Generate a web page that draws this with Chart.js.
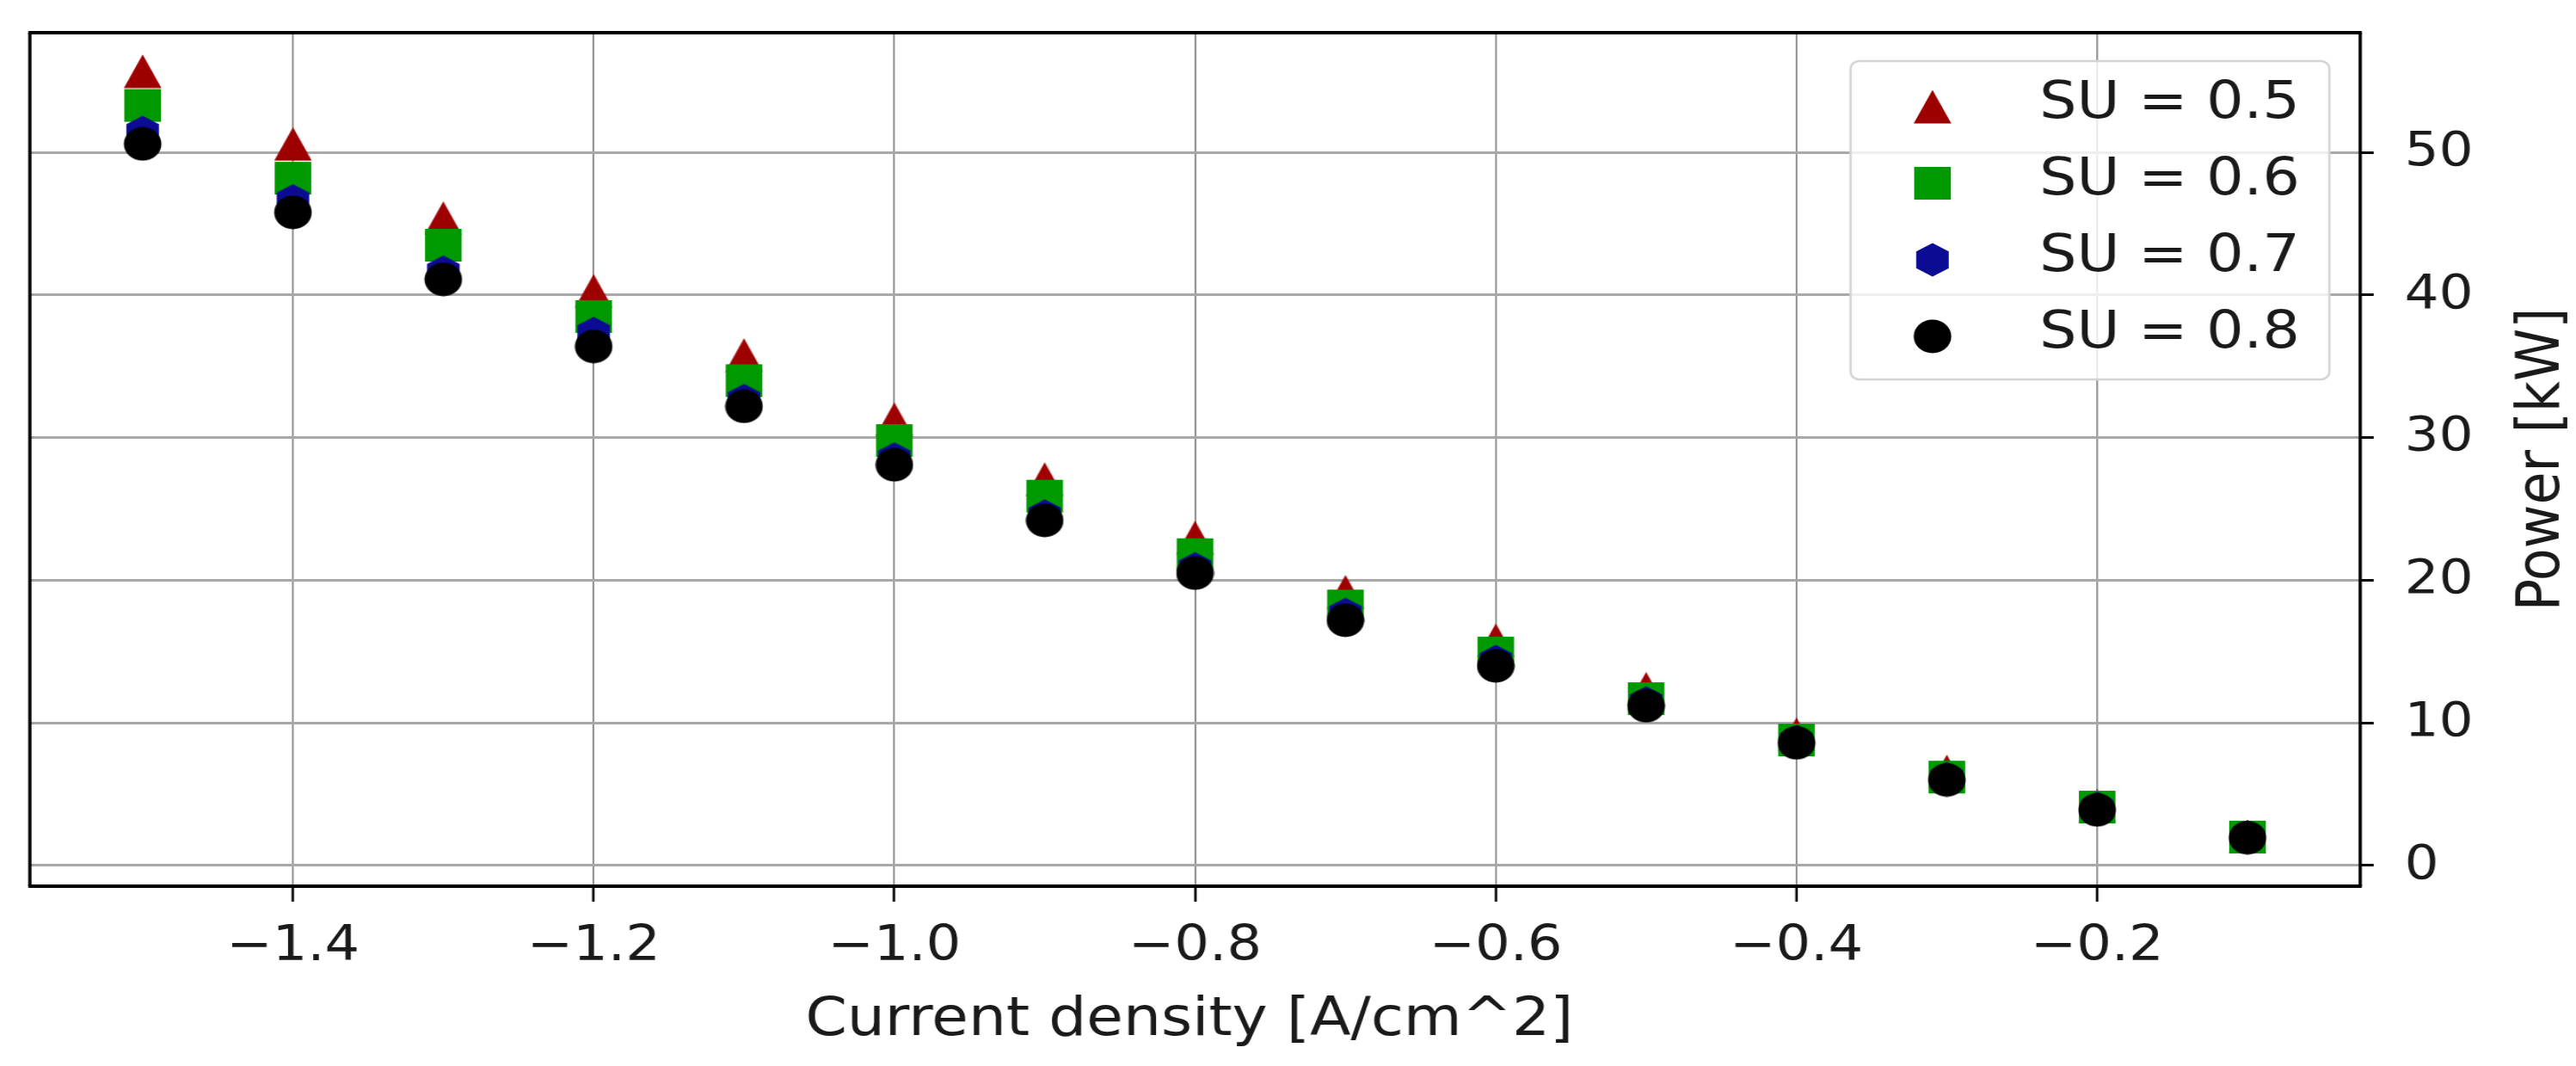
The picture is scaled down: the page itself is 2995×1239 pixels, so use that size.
<!DOCTYPE html>
<html>
<head>
<meta charset="utf-8">
<script src="https://cdn.jsdelivr.net/npm/chart.js@4.4.1/dist/chart.umd.min.js"></script>
<style>
html,body{margin:0;padding:0;background:#fff;overflow:hidden;}
#wrap{position:absolute;left:0;top:0;width:2674px;height:1239px;transform:scaleX(1.12004);transform-origin:0 0;}
</style>
</head>
<body>
<div id="wrap"><canvas id="c"></canvas></div>
<script>
// ---- data ----
const currentDensity = [-1.5, -1.4, -1.3, -1.2, -1.1, -1.0, -0.9, -0.8, -0.7, -0.6, -0.5, -0.4, -0.3, -0.2, -0.1];
const powerSU05 = [55.7, 50.6, 45.4, 40.3, 35.8, 31.3, 27.1, 23.0, 19.2, 15.8, 12.4, 9.2, 6.6, 4.2, 2.05];
const powerSU06 = [53.3, 48.2, 43.5, 38.5, 34.0, 29.8, 25.9, 21.8, 18.2, 14.9, 11.7, 8.8, 6.2, 4.1, 2.0];
const powerSU07 = [51.4, 46.6, 41.6, 37.3, 32.6, 28.5, 24.5, 20.8, 17.6, 14.3, 11.4, 8.7, 6.1, 4.0, 2.0];
const powerSU08 = [50.6, 45.8, 41.1, 36.4, 32.2, 28.1, 24.2, 20.5, 17.2, 14.0, 11.2, 8.6, 6.0, 3.9, 1.95];
const seriesLabels = ['SU = 0.5', 'SU = 0.6', 'SU = 0.7', 'SU = 0.8'];
const xTickValues = [-1.4, -1.2, -1.0, -0.8, -0.6, -0.4, -0.2];
const xTickLabels = ['\u22121.4', '\u22121.2', '\u22121.0', '\u22120.8', '\u22120.6', '\u22120.4', '\u22120.2'];
const yTickValues = [0, 10, 20, 30, 40, 50];
const yTickLabels = ['0', '10', '20', '30', '40', '50'];
const xTitle = 'Current density [A/cm^2]';
const yTitle = 'Power [kW]';

// ---- styles ----
const FONT = "'DejaVu Sans', 'Liberation Sans', sans-serif";
const colors = ['#9e0000', '#009a00', '#0b0b94', '#000000'];
const shapes = ['triangle', 'square', 'hexagon', 'circle'];

function makeMarker(shape, color) {
  const c = document.createElement('canvas');
  const h = 40;
  let w = 40;
  if (shape === 'hexagon') w = 36;
  c.width = w; c.height = h;
  const g = c.getContext('2d');
  g.fillStyle = color;
  g.beginPath();
  if (shape === 'triangle') {
    g.moveTo(w / 2, 0.5); g.lineTo(w - 0.5, h - 0.5); g.lineTo(0.5, h - 0.5); g.closePath();
  } else if (shape === 'square') {
    g.rect(1, 1, w - 2, h - 2);
  } else if (shape === 'hexagon') {
    const r = 19.5;
    for (let i = 0; i < 6; i++) {
      const a = -Math.PI / 2 + i * Math.PI / 3;
      const px = w / 2 + r * Math.cos(a), py = h / 2 + r * Math.sin(a);
      if (i === 0) g.moveTo(px, py); else g.lineTo(px, py);
    }
    g.closePath();
  } else {
    g.arc(w / 2, h / 2, 19.5, 0, Math.PI * 2);
  }
  g.fill();
  return c;
}
const markers = shapes.map((s, i) => makeMarker(s, colors[i]));
const seriesValues = [powerSU05, powerSU06, powerSU07, powerSU08];

const datasets = seriesValues.map((vals, i) => ({
  label: seriesLabels[i],
  data: currentDensity.map((x, k) => ({ x: x, y: vals[k] })),
  pointStyle: markers[i],
  pointRadius: 20,
  pointHoverRadius: 20,
  backgroundColor: colors[i],
  borderColor: colors[i],
  showLine: false,
  order: 4 - i
}));

const decorPlugin = {
  id: 'decor',
  afterDraw(chart) {
    const ctx = chart.ctx;
    const a = chart.chartArea;
    ctx.save();
    // frame
    ctx.strokeStyle = '#000';
    ctx.lineWidth = 4;
    ctx.beginPath();
    ctx.moveTo(a.left - 1.6, a.top); ctx.lineTo(a.right + 1.6, a.top);
    ctx.moveTo(a.left - 1.6, a.bottom); ctx.lineTo(a.right + 1.6, a.bottom);
    ctx.stroke();
    ctx.lineWidth = 3.4;
    ctx.beginPath();
    ctx.moveTo(a.left, a.top); ctx.lineTo(a.left, a.bottom);
    ctx.moveTo(a.right, a.top); ctx.lineTo(a.right, a.bottom);
    ctx.stroke();

    // axis titles
    ctx.fillStyle = '#1a1a1a';
    ctx.font = '62px ' + FONT;
    ctx.textAlign = 'center';
    ctx.textBaseline = 'alphabetic';
    ctx.fillText(xTitle, (a.left + a.right) / 2 - 6, 1203);
    ctx.save();
    ctx.translate(2640, (a.top + a.bottom) / 2);
    ctx.rotate(-Math.PI / 2);
    ctx.textBaseline = 'middle';
    ctx.fillText(yTitle, 0, 0);
    ctx.restore();

    // legend
    const lx = 1921, ly = 71, lw = 497, lh = 370, rr = 9;
    ctx.beginPath();
    ctx.moveTo(lx + rr, ly);
    ctx.arcTo(lx + lw, ly, lx + lw, ly + lh, rr);
    ctx.arcTo(lx + lw, ly + lh, lx, ly + lh, rr);
    ctx.arcTo(lx, ly + lh, lx, ly, rr);
    ctx.arcTo(lx, ly, lx + lw, ly, rr);
    ctx.closePath();
    ctx.fillStyle = 'rgba(255,255,255,0.8)';
    ctx.fill();
    ctx.strokeStyle = '#d4d4d4';
    ctx.lineWidth = 2.5;
    ctx.stroke();
    ctx.font = '61px ' + FONT;
    ctx.textAlign = 'left';
    ctx.textBaseline = 'middle';
    ctx.fillStyle = '#1a1a1a';
    const rowY = [124, 213, 302, 391];
    seriesLabels.forEach((lab, i) => {
      const m = markers[i];
      ctx.drawImage(m, 2006 - m.width / 2, rowY[i] - m.height / 2);
      ctx.fillText(lab, 2117, rowY[i] - 3);
    });
    ctx.restore();
  }
};

Chart.defaults.font.family = FONT;
new Chart(document.getElementById('c'), {
  type: 'scatter',
  data: { datasets: datasets },
  options: {
    responsive: true,
    maintainAspectRatio: false,
    animation: false,
    events: [],
    layout: { padding: { left: 31, top: 38, right: 0, bottom: 0 } },
    plugins: { legend: { display: false }, tooltip: { enabled: false } },
    scales: {
      x: {
        type: 'linear',
        position: 'bottom',
        min: -1.575,
        max: -0.025,
        afterBuildTicks: s => { s.ticks = xTickValues.map(v => ({ value: v })); },
        afterFit: s => { s.height = 209; s.paddingLeft = 0; s.paddingRight = 0; },
        border: { display: false },
        grid: { color: '#8c8c8c', lineWidth: 1.8, drawTicks: true, tickLength: 18, tickColor: '#000', tickWidth: 2.6 },
        ticks: {
          font: { size: 57 }, color: '#1a1a1a', padding: 19, maxRotation: 0, autoSkip: false,
          callback: v => { const i = xTickValues.findIndex(t => Math.abs(t - v) < 1e-9); return i >= 0 ? xTickLabels[i] : ''; }
        }
      },
      y: {
        type: 'linear',
        position: 'right',
        min: -1.45,
        max: 58.4,
        afterBuildTicks: s => { s.ticks = yTickValues.map(v => ({ value: v })); },
        afterFit: s => { s.width = 224; s.paddingTop = 0; s.paddingBottom = 0; },
        border: { display: false },
        grid: { color: '#a8a8a8', lineWidth: 3, drawTicks: true, tickLength: 14, tickColor: '#000', tickWidth: 3 },
        ticks: {
          font: { size: 56 }, color: '#1a1a1a', padding: 32, autoSkip: false,
          callback: v => { const i = yTickValues.indexOf(v); return i >= 0 ? yTickLabels[i] : ''; }
        }
      }
    }
  },
  plugins: [decorPlugin]
});
</script>
</body>
</html>
